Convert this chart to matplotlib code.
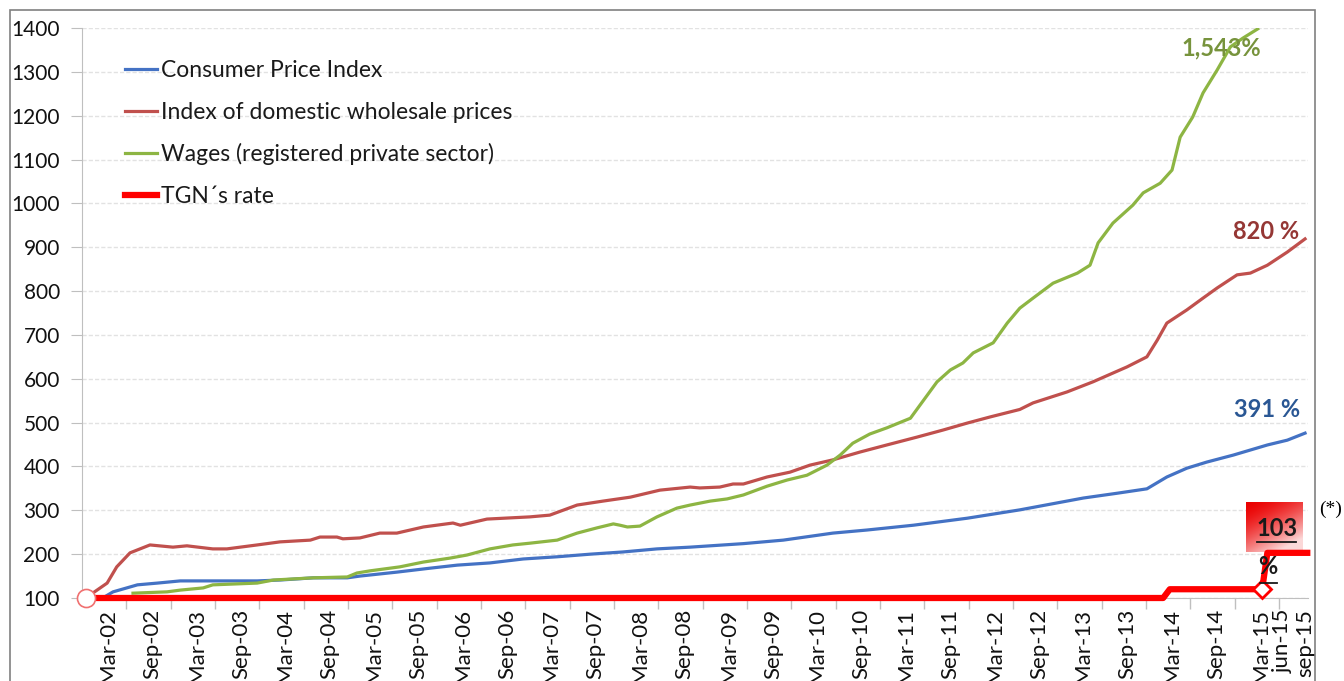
import numpy as np
import matplotlib.pyplot as plt
from matplotlib.patches import Rectangle

# months counted from Jan-2002 (Dec-2001 = -1, base = 100)
cpi_m = [-1, 1.4, 2.7, 6.0, 8.7, 11.8, 16.2, 22.2, 25.3, 29.8, 34.4, 36.1, 41.1, 45.6,
         49.3, 53.7, 58.2, 62.8, 67.3, 71.7, 76.3, 80.8, 83.5, 88.0, 93.4, 100.1, 104.7,
         111.0, 118.3, 125.4, 134.0, 138.6, 142.6, 145.3, 148.0, 150.7, 154.3, 158.9,
         161.6, 164.0]
cpi_v = [100, 101, 114, 130, 134, 139, 139, 139, 141, 146, 146, 150, 159, 168,
         175, 180, 189, 194, 200, 205, 212, 216, 219, 224, 232, 248, 255,
         266, 282, 301, 328, 339, 349, 376, 396, 410, 426, 449,
         460, 476]

whp_m = [-1, 1.9, 3.2, 5.0, 7.7, 10.8, 12.7, 16.2, 18.1, 22.2, 25.3, 29.4, 30.7, 33.0,
         33.8, 36.1, 38.8, 41.1, 44.7, 48.7, 49.7, 53.3, 59.1, 61.8, 65.5, 69.0, 72.7,
         76.7, 80.8, 82.1, 84.8, 86.6, 88.0, 91.2, 94.3, 97.0, 100.1, 103.8, 107.4,
         111.5, 115.0, 118.3, 121.4, 125.4, 127.2, 131.8, 135.3, 138.0, 139.9, 142.6,
         144.0, 145.3, 148.0, 150.2, 152.1, 154.8, 156.6, 158.9, 161.6, 164.0]
whp_v = [100, 134, 171, 203, 221, 216, 219, 212, 212, 221, 228, 232, 239, 239,
         235, 237, 248, 248, 262, 271, 266, 280, 285, 289, 312, 321, 330,
         346, 353, 351, 353, 360, 360, 376, 387, 403, 415, 433, 449,
         467, 483, 499, 513, 530, 545, 570, 593, 613, 627, 650,
         688, 727, 757, 784, 807, 837, 841, 859, 889, 919]

wage_m = [5.4, 10.0, 11.8, 14.9, 16.2, 22.2, 24.4, 29.8, 34.4, 35.7, 37.5, 41.5, 44.7,
          48.3, 50.6, 53.7, 56.8, 59.1, 62.8, 65.5, 68.2, 70.4, 71.3, 72.3, 74.0, 76.3,
          79.0, 80.8, 83.5, 85.8, 88.0, 91.2, 93.9, 96.6, 99.3, 101.1, 102.8, 105.1,
          107.4, 110.6, 111.9, 114.2, 116.0, 117.7, 119.1, 121.8, 123.7, 125.4, 127.2,
          129.9, 133.2, 134.9, 136.0, 138.0, 140.7, 142.1, 144.4, 146.0, 147.1, 148.8,
          150.2, 152.1, 153.9, 155.6, 157.6]
wage_v = [111, 114, 118, 123, 130, 134, 141, 146, 148, 157, 162, 171, 182,
          191, 198, 212, 221, 225, 232, 248, 260, 269, 266, 262, 264, 285,
          305, 312, 321, 326, 335, 355, 369, 380, 403, 426, 453, 474,
          488, 510, 540, 593, 620, 636, 659, 682, 727, 761, 784,
          818, 841, 859, 910, 955, 996, 1024, 1046, 1076, 1151, 1197,
          1252, 1304, 1357, 1377, 1398]

tgn_m = [-1, 144.8, 145.7, 158.2, 158.9, 164.3]
tgn_v = [100, 100, 120, 120, 203, 203]

x_labels = ['Mar-02', 'Sep-02', 'Mar-03', 'Sep-03', 'Mar-04', 'Sep-04', 'Mar-05', 'Sep-05',
            'Mar-06', 'Sep-06', 'Mar-07', 'Sep-07', 'Mar-08', 'Sep-08', 'Mar-09', 'Sep-09',
            'Mar-10', 'Sep-10', 'Mar-11', 'Sep-11', 'Mar-12', 'Sep-12', 'Mar-13', 'Sep-13',
            'Mar-14', 'Sep-14', 'Mar-15', 'jun-15', 'sep-15']

plt.rcParams['font.family'] = ['Lato', 'DejaVu Sans']

W, H = 1344, 681
fig = plt.figure(figsize=(W / 100, H / 100), dpi=100)
ax = fig.add_axes([82 / W, 1 - 598 / H, (1308 - 82) / W, (598 - 28) / H])

ax.plot(cpi_m, cpi_v, color='#4472C4', lw=2.3, label='Consumer Price Index')
ax.plot(whp_m, whp_v, color='#C0504D', lw=2.3, label='Index of domestic wholesale prices')
ax.plot(wage_m, wage_v, color='#8DB543', lw=2.3, label='Wages (registered private sector)')
ax.plot(tgn_m, tgn_v, color='#FF0000', lw=4.5, label='TGN´s rate', zorder=5, clip_on=False)

# start marker and Mar-15 marker
ax.plot(tgn_m[0], tgn_v[0], marker='o', ms=13, mfc='white', mec='#F07070', mew=1.2,
        clip_on=False, zorder=6)
ax.plot(tgn_m[3], tgn_v[3], marker='D', ms=9, mfc='white', mec='#FF0000', mew=2,
        clip_on=False, zorder=6)

# red gradient box for the 103 % label
u = np.linspace(0, 1, 60)[None, :]
v = np.linspace(0, 1, 50)[:, None]
t = np.clip((0.45 * u + 0.75 * v) ** 1.6, 0, 1) * 0.85
grad = np.zeros((50, 60, 3))
grad[..., 0] = 0.92 + 0.08 * t
grad[..., 1] = t
grad[..., 2] = t
ax.imshow(grad, extent=(156.0, 163.6, 205, 319), aspect='auto', zorder=4, origin='upper')
ax.set_xlim(-1.5, 164.4)
ax.set_ylim(100, 1400)

ax.text(160.2, 258, '103', fontsize=17, fontweight='bold', ha='center', va='center',
        color='#1a1a1a', zorder=7)
ax.plot([157.5, 162.8], [228, 228], color='#1a1a1a', lw=1.3, zorder=7)
ax.text(158.9, 171, '%', fontsize=17, fontweight='bold', ha='center', va='center',
        color='#1a1a1a', zorder=7)
ax.plot([157.9, 160.2], [134, 134], color='#1a1a1a', lw=1.3, zorder=7, clip_on=False)

ax.text(152.6, 1354, '1,543%', color='#77933C', fontsize=17, fontweight='bold',
        ha='center', va='center')
ax.text(158.7, 935, '820 %', color='#953735', fontsize=17, fontweight='bold',
        ha='center', va='center')
ax.text(158.9, 529, '391 %', color='#2A5794', fontsize=17, fontweight='bold',
        ha='center', va='center')

ax.set_yticks(range(100, 1500, 100))
ax.yaxis.grid(True, color='#e2e2e2', lw=1, ls=(0, (3, 1.5)))
ax.set_axisbelow(True)

ax.set_xticks(np.r_[np.arange(2, 159, 6), 161, 164])
ax.set_xticklabels(x_labels, rotation=90, va='top')
ax.set_xticks(np.arange(4.5, 161, 6), minor=True)
ax.tick_params(axis='x', which='major', length=0, pad=8, labelsize=16, labelcolor='#111111')
ax.tick_params(axis='x', which='minor', length=8, color='#bfbfbf', width=1)
ax.tick_params(axis='y', length=8, color='#bfbfbf', pad=8, labelsize=15, labelcolor='#111111')

for s in ['top', 'right']:
    ax.spines[s].set_visible(False)
ax.spines['left'].set_color('#bfbfbf')
ax.spines['bottom'].set_color('#bfbfbf')

leg = ax.legend(loc='upper left', bbox_to_anchor=(125 / W, 1 - 60 / H),
                bbox_transform=fig.transFigure, frameon=False, fontsize=16.5,
                handlelength=1.4, handletextpad=0.15, labelspacing=0.9,
                borderpad=0, borderaxespad=0)
for txt in leg.get_texts():
    txt.set_color('#1a1a1a')

fig.add_artist(Rectangle((10 / W, -0.05), (1315 - 10) / W, 1 - 10 / H + 0.05,
                         transform=fig.transFigure, fill=False, ec='#808080', lw=1.2))
fig.text(1331 / W, 1 - 509 / H, '(*)', family='Liberation Serif', fontsize=14,
         ha='center', va='center', bbox=dict(fc='white', ec='none', pad=1))

fig.savefig('out.png', dpi=100)
